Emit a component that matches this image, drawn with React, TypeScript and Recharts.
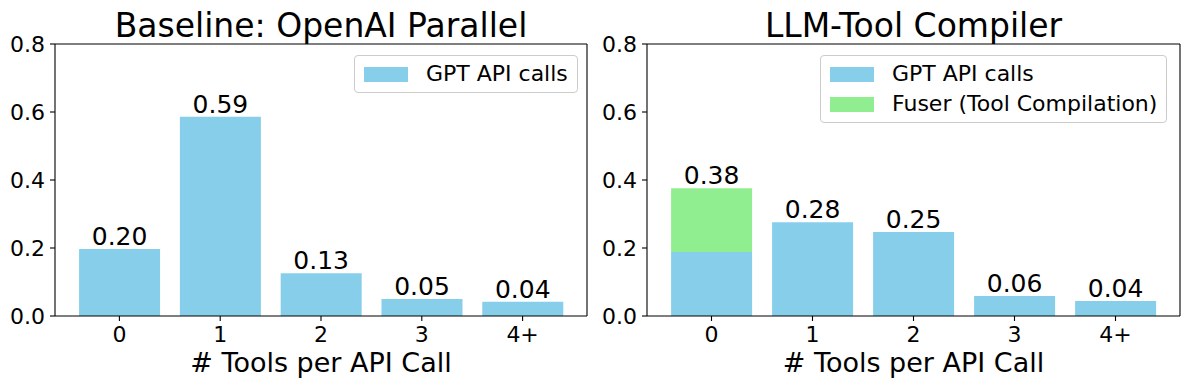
import { BarChart, Bar, XAxis, YAxis, Legend, LabelList, Label } from "recharts";

const categories = ["0", "1", "2", "3", "4+"];
const baselineGpt = [0.197, 0.586, 0.126, 0.05, 0.042];
const compilerGpt = [0.188, 0.276, 0.247, 0.059, 0.044];
const compilerFuser = [0.188, 0, 0, 0, 0];
const yTicks = [0, 0.2, 0.4, 0.6, 0.8];

const FONT = "'DejaVu Sans', sans-serif";
const SKY = "#87ceeb";
const GREEN = "#90ee90";
const TICK = { fontSize: 22, fill: "#000", fontFamily: FONT };
const LABEL_STYLE = { fontSize: 25, fill: "#000", fontFamily: FONT };
const XLABEL_STYLE = { fontSize: 27, fill: "#000", fontFamily: FONT };
const SPINE = { stroke: "#000", strokeWidth: 1.1 };

const baselineData = categories.map((c, i) => ({ cat: c, gpt: baselineGpt[i] }));
const compilerData = categories.map((c, i) => {
  const total = compilerGpt[i] + compilerFuser[i];
  return {
    cat: c,
    gpt: compilerGpt[i],
    fuser: compilerFuser[i],
    total,
    // label sits on the blue bar only where nothing is stacked above it
    gptTop: compilerFuser[i] > 0 ? "" : total,
  };
});

const legendOrder = ["gpt", "fuser"];

function BoxLegend({ payload }: any) {
  if (!payload?.length) return null;
  const items = [...payload].sort(
    (a: any, b: any) => legendOrder.indexOf(a.dataKey) - legendOrder.indexOf(b.dataKey)
  );
  return (
    <div
      style={{
        border: "1px solid #cccccc",
        borderRadius: 4,
        background: "rgba(255,255,255,0.8)",
        padding: "8px 9px",
        display: "flex",
        flexDirection: "column",
        gap: 10,
        fontFamily: FONT,
        fontSize: 22,
        color: "#000",
        whiteSpace: "nowrap",
      }}
    >
      {items.map((p: any) => (
        <div key={p.value} style={{ display: "flex", alignItems: "center", height: 20 }}>
          <div style={{ width: 44, height: 15, background: p.color, marginRight: 18 }} />
          <span style={{ lineHeight: "20px" }}>{p.value}</span>
        </div>
      ))}
    </div>
  );
}

const fmt = (v: any) => (v === "" || v == null ? "" : Number(v).toFixed(2));

export default function App() {
  const panel = (
    title: string,
    data: any[],
    yWidth: number,
    rightMargin: number,
    legendLeft: number,
    stacked: boolean
  ) => (
    <div style={{ position: "relative", width: 595, height: 389 }}>
      <BarChart
        width={595}
        height={389}
        data={data}
        margin={{ top: 43, right: rightMargin - 1, left: 0, bottom: 0 }}
        barCategoryGap="10%"
      >
        <XAxis
          dataKey="cat"
          height={73}
          padding={{ left: 14, right: 14 }}
          tick={TICK}
          tickSize={5}
          tickMargin={5}
          axisLine={SPINE}
          tickLine={SPINE}
        >
          <Label value="# Tools per API Call" position="insideBottom" offset={17} style={XLABEL_STYLE} />
        </XAxis>
        {/* top + right spines, drawn as bare axes */}
        <XAxis
          xAxisId="top"
          orientation="top"
          dataKey="cat"
          height={1}
          padding={{ left: 14, right: 14 }}
          tick={false}
          tickLine={false}
          axisLine={SPINE}
        />
        <YAxis
          width={yWidth}
          domain={[0, 0.8]}
          ticks={yTicks}
          tickFormatter={(v) => v.toFixed(1)}
          tick={TICK}
          tickSize={5}
          tickMargin={5}
          axisLine={SPINE}
          tickLine={SPINE}
        />
        <YAxis
          yAxisId="right"
          orientation="right"
          width={1}
          domain={[0, 0.8]}
          tick={false}
          tickLine={false}
          axisLine={SPINE}
        />
        <Legend
          layout="horizontal"
          verticalAlign="middle"
          align="center"
          content={<BoxLegend />}
          wrapperStyle={{ top: 55, left: legendLeft, width: "auto", height: "auto" }}
        />
        {stacked ? (
          <>
            <Bar dataKey="gpt" name="GPT API calls" stackId="s" fill={SKY} isAnimationActive={false}>
              <LabelList dataKey="gptTop" position="top" offset={4} formatter={fmt} style={LABEL_STYLE} />
            </Bar>
            <Bar dataKey="fuser" name="Fuser (Tool Compilation)" stackId="s" fill={GREEN} isAnimationActive={false}>
              <LabelList dataKey="total" position="top" offset={4} formatter={fmt} style={LABEL_STYLE} />
            </Bar>
          </>
        ) : (
          <Bar dataKey="gpt" name="GPT API calls" fill={SKY} isAnimationActive={false}>
            <LabelList dataKey="gpt" position="top" offset={4} formatter={fmt} style={LABEL_STYLE} />
          </Bar>
        )}
      </BarChart>
      <div
        style={{
          position: "absolute",
          top: 9,
          left: yWidth,
          width: 595 - yWidth - rightMargin,
          textAlign: "center",
          fontFamily: FONT,
          fontSize: 33,
          lineHeight: "33px",
          color: "#000",
        }}
      >
        {title}
      </div>
    </div>
  );

  return (
    <div style={{ position: "absolute", left: 0, top: 0, width: 1190, height: 389, background: "#fff", display: "flex" }}>
      {panel("Baseline: OpenAI Parallel", baselineData, 55, 8, 354, false)}
      {panel("LLM-Tool Compiler", compilerData, 52, 10, 225, true)}
    </div>
  );
}
